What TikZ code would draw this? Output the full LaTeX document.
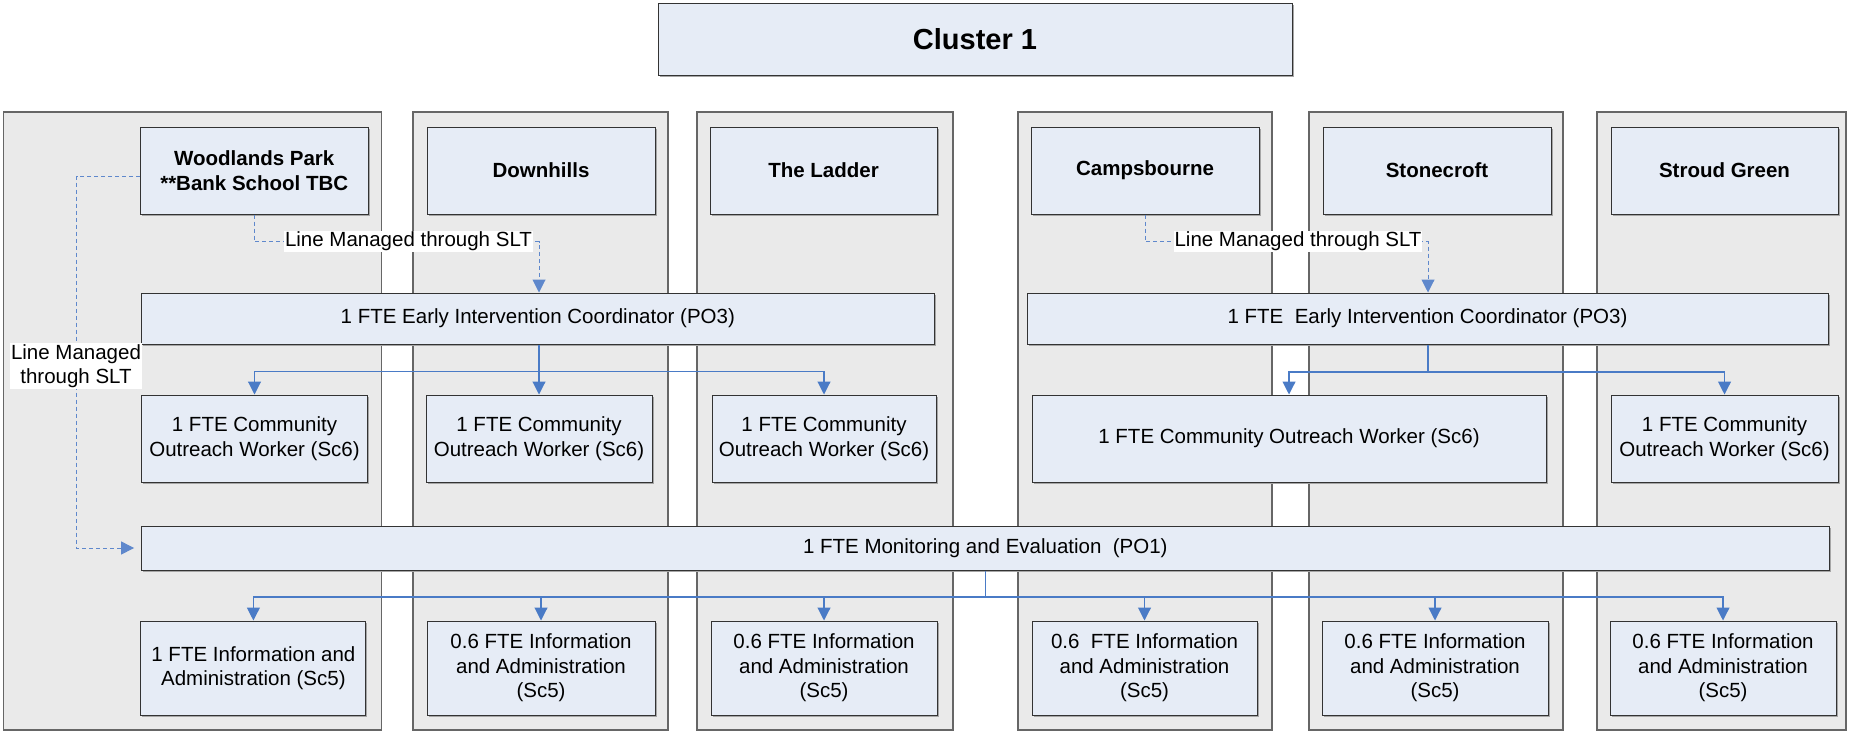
\documentclass[tikz,border=0pt]{standalone}
\usepackage{fontspec}
\setmainfont{Liberation Sans}
\usetikzlibrary{arrows.meta,calc,shadows}
\definecolor{boxfill}{HTML}{E6ECF6}
\definecolor{boxline}{HTML}{333333}
\definecolor{colfill}{HTML}{EAEAEA}
\definecolor{colline}{HTML}{666666}
\definecolor{connblue}{HTML}{4A7BC6}
\definecolor{dashblue}{HTML}{5F88CC}
\definecolor{shadowgray}{HTML}{A6A6A6}
\tikzset{
  colbox/.style={draw=colline, fill=colfill, line width=1.1pt, inner sep=0pt},
  bx/.style={draw=boxline, fill=boxfill, line width=1pt, inner sep=0pt, align=center,
    drop shadow={shadow xshift=1.5pt, shadow yshift=-1.5pt, fill=shadowgray, opacity=1},
    font=\fontsize{20.5}{24.5}\selectfont},
  hbx/.style={bx, font=\fontsize{20.5}{24.5}\selectfont\bfseries},
  conn/.style={draw=connblue, line width=1.1pt},
  tip/.style={-{Triangle[length=13pt,width=13pt]}},
  dconn/.style={draw=dashblue, line width=1pt, dash pattern=on 4pt off 3pt},
  lbl/.style={fill=white, inner xsep=1pt, inner ysep=1pt, align=center,
    font=\fontsize{20.5}{24.5}\selectfont}
}
\begin{document}
\begin{tikzpicture}[x=1pt,y=-1pt]
\useasboundingbox (0,0) rectangle (1849,731);
% columns
\node[colbox, minimum width=377.7, minimum height=618] (c1) at (192.65,421) {};
\node[colbox, minimum width=255, minimum height=618] (c2) at (540.5,421) {};
\node[colbox, minimum width=256, minimum height=618] (c3) at (825,421) {};
\node[colbox, minimum width=254, minimum height=618] (c4) at (1145,421) {};
\node[colbox, minimum width=254, minimum height=618] (c5) at (1436,421) {};
\node[colbox, minimum width=249, minimum height=618] (c6) at (1721.5,421) {};
% title
\node[bx, minimum width=634, minimum height=72, font=\fontsize{29}{34}\selectfont\bfseries] (cl) at (975,39) {Cluster 1};
% headers
\node[hbx, minimum width=227.5, minimum height=87] (h1) at (254.25,170.5) {Woodlands Park\\**Bank School TBC};
\node[hbx, minimum width=228, minimum height=87] (h2) at (541,170.5) {Downhills};
\node[hbx, minimum width=227, minimum height=87] (h3) at (823.5,170.5) {The Ladder};
\node[hbx, minimum width=228, minimum height=87] (h4) at (1145,170.5) {Campsbourne};
\node[hbx, minimum width=228, minimum height=87] (h5) at (1437,170.5) {Stonecroft};
\node[hbx, minimum width=227, minimum height=87] (h6) at (1724.5,170.5) {Stroud Green};
% coordinators
\node[bx, minimum width=792.4, minimum height=51] (eic1) at (537.8,318.5) {1 FTE Early Intervention Coordinator (PO3)};
\node[bx, minimum width=801, minimum height=51] (eic2) at (1427.5,318.5) {1 FTE~ Early Intervention Coordinator (PO3)};
% outreach
\node[bx, minimum width=225.8, minimum height=87] (co1) at (254.5,438.5) {1 FTE Community\\Outreach Worker (Sc6)};
\node[bx, minimum width=226, minimum height=87] (co2) at (539,438.5) {1 FTE Community\\Outreach Worker (Sc6)};
\node[bx, minimum width=224, minimum height=87] (co3) at (824,438.5) {1 FTE Community\\Outreach Worker (Sc6)};
\node[bx, minimum width=514, minimum height=87] (co4) at (1289,438.5) {1 FTE Community Outreach Worker (Sc6)};
\node[bx, minimum width=227, minimum height=87] (co6) at (1724.5,438.5) {1 FTE Community\\Outreach Worker (Sc6)};
% monitoring
\node[bx, minimum width=1687.4, minimum height=44] (me) at (985.3,548) {1 FTE Monitoring and Evaluation~ (PO1)};
% info admin
\node[bx, minimum width=225, minimum height=94] (ia1) at (253.4,668) {1 FTE Information and\\Administration (Sc5)};
\node[bx, minimum width=228, minimum height=94] (ia2) at (541,668) {0.6 FTE Information\\and Administration\\(Sc5)};
\node[bx, minimum width=226, minimum height=94] (ia3) at (824,668) {0.6 FTE Information\\and Administration\\(Sc5)};
\node[bx, minimum width=225, minimum height=94] (ia4) at (1144.5,668) {0.6~ FTE Information\\and Administration\\(Sc5)};
\node[bx, minimum width=226, minimum height=94] (ia5) at (1435,668) {0.6 FTE Information\\and Administration\\(Sc5)};
\node[bx, minimum width=226, minimum height=94] (ia6) at (1723,668) {0.6 FTE Information\\and Administration\\(Sc5)};
% solid connectors
\coordinate (j1) at ($(co2.north)+(0,-23)$);
\draw[conn] (eic1.south -| j1) -- (j1);
\draw[conn,tip] (j1) -| (co1.north);
\draw[conn,tip] (j1) -- (co2.north);
\draw[conn,tip] (j1) -| (co3.north);
\coordinate (j2) at (1428,372);
\draw[conn] (eic2.south -| j2) -- (j2);
\draw[conn,tip] (j2) -| (co4.north);
\draw[conn,tip] (j2) -| (co6.north);
\coordinate (j3) at (985.3,597);
\draw[conn] (me.south -| j3) -- (j3);
\foreach \n in {ia1,ia2,ia3,ia4,ia5,ia6}{\draw[conn,tip] (j3) -| (\n.north);}
% dashed line-management connectors
\draw[dconn,tip] (h1.south) -- ++(0,27) -| (eic1.north -| j1);
\node[lbl] (l1) at (408.5,241.5) {Line Managed through SLT};
\draw[dconn,tip] (h4.south) -- ++(0,27) -| (eic2.north -| j2);
\node[lbl] (l2) at (1298,241.5) {Line Managed through SLT};
\draw[dconn,tip,shorten >=7pt] ($(h1.west)+(0,5.5)$) -- ++(-63.5,0) |- (me.west);
\node[lbl] (l3) at (76,366) {Line Managed\\through SLT};
\end{tikzpicture}
\end{document}
